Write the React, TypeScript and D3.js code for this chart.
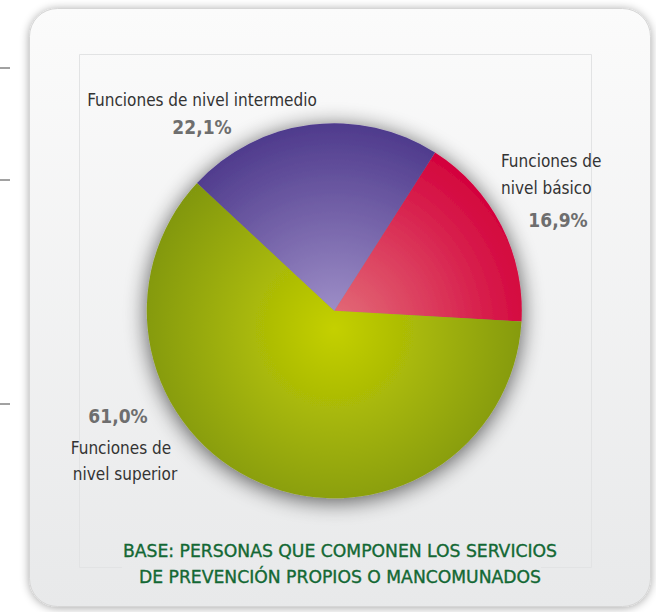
import React from "react";
import * as d3 from "d3";

const categories = ["Funciones de nivel básico", "Funciones de nivel superior", "Funciones de nivel intermedio"];
const values = [16.9, 61.0, 22.1];
const valueLabels = ["16,9%", "61,0%", "22,1%"];
const edgeColors = ["#d3003b", "#7f9512", "#4e3a8c"];
const centerColors = ["#e3707a", "#c4d000", "#a495cc"];
const axisTicks = [68, 180, 404];
const caption = ["BASE: PERSONAS QUE COMPONEN LOS SERVICIOS", "DE PREVENCIÓN PROPIOS O MANCOMUNADOS"];

const W = 656;
const H = 612;
const cx = 334.3;
const cy = 310.7;
const R = 187.5;
const FONT = "'Liberation Sans Narrow', 'DejaVu Sans Condensed', 'Liberation Sans', sans-serif";

export default function App() {
  const pie = d3
    .pie<number>()
    .sort(null)
    .value((d) => d)
    .startAngle((32.5 * Math.PI) / 180)
    .endAngle((32.5 * Math.PI) / 180 + 2 * Math.PI);
  const arcs = pie(values);
  const arc = d3.arc<d3.PieArcDatum<number>>().innerRadius(0).outerRadius(R);

  return (
    <svg width={W} height={H} style={{ position: "absolute", left: 0, top: 0, display: "block" }}>
      <defs>
        <linearGradient id="panelBg" x1="0" y1="0" x2="0" y2="1">
          <stop offset="0%" stopColor="#fbfbfb" />
          <stop offset="100%" stopColor="#e8e9ea" />
        </linearGradient>
        <filter id="panelShadow" x="-10%" y="-10%" width="120%" height="120%">
          <feGaussianBlur in="SourceAlpha" stdDeviation="5" />
          <feOffset dx="0" dy="1" result="b" />
          <feComponentTransfer>
            <feFuncA type="linear" slope="0.35" />
          </feComponentTransfer>
          <feMerge>
            <feMergeNode />
            <feMergeNode in="SourceGraphic" />
          </feMerge>
        </filter>
        <filter id="pieShadow" x="-25%" y="-25%" width="150%" height="150%">
          <feGaussianBlur in="SourceAlpha" stdDeviation="11" />
          <feOffset dx="0" dy="3" result="b" />
          <feComponentTransfer>
            <feFuncA type="linear" slope="0.65" />
          </feComponentTransfer>
          <feMerge>
            <feMergeNode />
            <feMergeNode in="SourceGraphic" />
          </feMerge>
        </filter>
        {values.map((_, i) => (
          <radialGradient
            key={i}
            id={`sg${i}`}
            gradientUnits="userSpaceOnUse"
            cx={0}
            cy={18}
            fx={0}
            fy={18}
            r={R * 1.1}
          >
            <stop offset="0%" stopColor={centerColors[i]} />
            <stop offset="100%" stopColor={edgeColors[i]} />
          </radialGradient>
        ))}
      </defs>
      <rect x={0} y={0} width={W} height={H} fill="#ffffff" />
      {axisTicks.map((y, i) => (
        <line key={i} x1={0} x2={10} y1={y} y2={y} stroke="#444" strokeWidth={1} />
      ))}
      <rect
        x={29.5}
        y={8.5}
        width={621}
        height={598}
        rx={28}
        ry={28}
        fill="url(#panelBg)"
        stroke="#d6d6d6"
        strokeWidth={1}
        filter="url(#panelShadow)"
      />
      {/* plot area frame */}
      <g stroke="#e2e3e4" strokeWidth={1} fill="none">
        <line x1={79.5} x2={591.5} y1={54.5} y2={54.5} />
        <line x1={79.5} x2={79.5} y1={54.5} y2={567.5} />
        <line x1={591.5} x2={591.5} y1={54.5} y2={567.5} />
        <line x1={79.5} x2={122} y1={567.5} y2={567.5} />
        <line x1={541} x2={591.5} y1={567.5} y2={567.5} />
      </g>
      <g transform={`translate(${cx},${cy})`} filter="url(#pieShadow)">
        {arcs.map((a, i) => (
          <path key={i} d={arc(a) || ""} fill={`url(#sg${i})`} />
        ))}
      </g>
      {/* labels */}
      <g fontFamily={FONT} fill="#333333" fontSize={17}>
        <text x={202} y={106} textAnchor="middle">Funciones de nivel intermedio</text>
        <text x={501} y={167}>Funciones de</text>
        <text x={501} y={194}>nivel básico</text>
        <text x={121} y={454} textAnchor="middle">Funciones de</text>
        <text x={125} y={480} textAnchor="middle">nivel superior</text>
      </g>
      <g fontFamily={FONT} fill="#6e6e6e" fontSize={19} fontWeight="bold">
        <text x={202} y={134} textAnchor="middle">{valueLabels[2]}</text>
        <text x={558} y={227} textAnchor="middle">{valueLabels[0]}</text>
        <text x={118} y={423} textAnchor="middle">{valueLabels[1]}</text>
      </g>
      <g fontFamily={FONT} fill="#136834" stroke="#136834" strokeWidth={0.35} fontSize={18} textAnchor="middle">
        <text x={340} y={557} textLength={434} lengthAdjust="spacingAndGlyphs">{caption[0]}</text>
        <text x={340} y={583} textLength={402} lengthAdjust="spacingAndGlyphs">{caption[1]}</text>
      </g>
    </svg>
  );
}
